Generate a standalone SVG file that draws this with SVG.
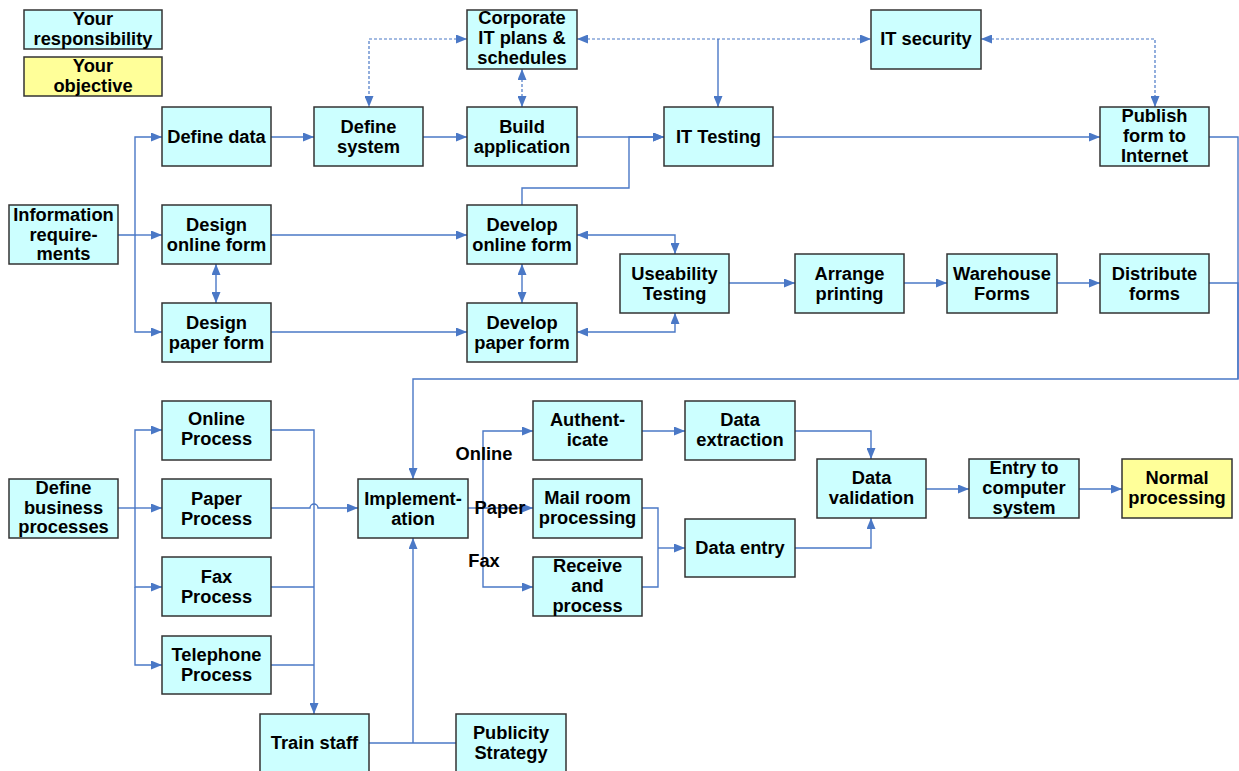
<svg xmlns="http://www.w3.org/2000/svg" width="1239" height="771" viewBox="0 0 1239 771">
<defs>
<style>
.b{fill:#CCFFFF;stroke:#333;stroke-width:1.5}
.y{fill:#FFFF99;stroke:#333;stroke-width:1.5}
text{font-family:"Liberation Sans",Arial,sans-serif;font-weight:bold;font-size:18.3px;fill:#000;text-anchor:middle}
.c{fill:none;stroke:#4A78C6;stroke-width:1.4}
.d{fill:none;stroke:#4A78C6;stroke-width:1.2;stroke-dasharray:3 2}
.a{marker-end:url(#ar)}
.s{marker-start:url(#ar)}
</style>
<marker id="ar" markerUnits="userSpaceOnUse" markerWidth="11" markerHeight="9" refX="11" refY="4.5" orient="auto-start-reverse"><path d="M0,0 L11,4.5 L0,9 z" fill="#4A78C6"/></marker>
</defs>
<rect width="1239" height="771" fill="#fff"/>
<g id="connectors">
<path class="c a" d="M135,235 L162,235"/>
<path class="c a" d="M118,235 L135,235 L135,137 L162,137"/>
<path class="c a" d="M135,235 L135,332 L162,332"/>
<path class="c a" d="M271,137 L314,137"/>
<path class="c a" d="M423,137 L467,137"/>
<path class="c a" d="M577,137 L664,137"/>
<path class="c a" d="M773,137 L1100,137"/>
<path class="c a" d="M522,205 L522,188 L629,188 L629,137 L664,137"/>
<path class="d s a" d="M467,39 L369,39 L369,107"/>
<path class="d s a" d="M522,69 L522,107"/>
<path class="d s a" d="M577,39 L871,39"/>
<path class="c a" d="M718,39 L718,107"/>
<path class="d s a" d="M981,39 L1155,39 L1155,107"/>
<path class="c s a" d="M216,264 L216,303"/>
<path class="c a" d="M271,235 L467,235"/>
<path class="c a" d="M271,332 L467,332"/>
<path class="c s a" d="M522,264 L522,303"/>
<path class="c s a" d="M577,235 L675,235 L675,254"/>
<path class="c s a" d="M577,332 L675,332 L675,313"/>
<path class="c a" d="M729,283 L795,283"/>
<path class="c a" d="M904,283 L947,283"/>
<path class="c a" d="M1057,283 L1100,283"/>
<path class="c" d="M1209,137 L1238,137 L1238,379"/>
<path class="c a" d="M1209,283 L1238,283 L1238,379 L413,379 L413,479"/>
<path class="c" d="M118,508 L135,508"/>
<path class="c a" d="M135,508 L162,508"/>
<path class="c a" d="M135,508 L135,430 L162,430"/>
<path class="c a" d="M135,508 L135,587 L162,587"/>
<path class="c a" d="M135,587 L135,665 L162,665"/>
<path class="c a" d="M271,430 L314,430 L314,714"/>
<path class="c" d="M271,587 L314,587"/>
<path class="c" d="M271,665 L314,665"/>
<path class="c a" d="M271,508 L310,508 A4,4 0 0 1 318,508 L358,508"/>
<path class="c" d="M369,743 L456,743"/>
<path class="c a" d="M413,743 L413,538"/>
<path class="c" d="M468,508 L483,508"/>
<path class="c a" d="M483,508 L483,431 L533,431"/>
<path class="c a" d="M483,508 L533,508"/>
<path class="c a" d="M483,508 L483,587 L533,587"/>
<path class="c a" d="M642,431 L685,431"/>
<path class="c" d="M642,508 L658,508 L658,587 L642,587"/>
<path class="c a" d="M658,548 L685,548"/>
<path class="c a" d="M795,431 L871,431 L871,459"/>
<path class="c a" d="M795,548 L871,548 L871,518"/>
<path class="c a" d="M926,489 L969,489"/>
<path class="c a" d="M1079,489 L1122,489"/>
</g>
<g id="labels">
<text x="484" y="460">Online</text>
<text x="500" y="514">Paper</text>
<text x="484" y="567">Fax</text>
</g>
<g id="legend-responsibility"><rect class="b" x="24" y="10" width="138" height="39"/><text x="93" y="25">Your</text><text x="93" y="45">responsibility</text></g>
<g id="legend-objective"><rect class="y" x="24" y="57" width="138" height="39"/><text x="93" y="72">Your</text><text x="93" y="92">objective</text></g>
<g id="define-data"><rect class="b" x="162" y="107" width="109" height="59"/><text x="216.5" y="143">Define data</text></g>
<g id="define-system"><rect class="b" x="314" y="107" width="109" height="59"/><text x="368.5" y="133">Define</text><text x="368.5" y="153">system</text></g>
<g id="corporate-it-plans"><rect class="b" x="467" y="10" width="110" height="59"/><text x="522" y="24">Corporate</text><text x="522" y="44">IT plans &amp;</text><text x="522" y="64">schedules</text></g>
<g id="build-application"><rect class="b" x="467" y="107" width="110" height="59"/><text x="522" y="133">Build</text><text x="522" y="153">application</text></g>
<g id="it-testing"><rect class="b" x="664" y="107" width="109" height="59"/><text x="718.5" y="143">IT Testing</text></g>
<g id="it-security"><rect class="b" x="871" y="10" width="110" height="59"/><text x="926" y="45">IT security</text></g>
<g id="publish-form"><rect class="b" x="1100" y="107" width="109" height="59"/><text x="1154.5" y="122">Publish</text><text x="1154.5" y="142">form to</text><text x="1154.5" y="162">Internet</text></g>
<g id="information-requirements"><rect class="b" x="9" y="205" width="109" height="59"/><text x="63.5" y="221">Information</text><text x="63.5" y="241">require-</text><text x="63.5" y="260">ments</text></g>
<g id="design-online-form"><rect class="b" x="162" y="205" width="109" height="59"/><text x="216.5" y="231">Design</text><text x="216.5" y="251">online form</text></g>
<g id="design-paper-form"><rect class="b" x="162" y="303" width="109" height="59"/><text x="216.5" y="329">Design</text><text x="216.5" y="349">paper form</text></g>
<g id="develop-online-form"><rect class="b" x="467" y="205" width="110" height="59"/><text x="522" y="231">Develop</text><text x="522" y="251">online form</text></g>
<g id="develop-paper-form"><rect class="b" x="467" y="303" width="110" height="59"/><text x="522" y="329">Develop</text><text x="522" y="349">paper form</text></g>
<g id="useability-testing"><rect class="b" x="620" y="254" width="109" height="59"/><text x="674.5" y="280">Useability</text><text x="674.5" y="300">Testing</text></g>
<g id="arrange-printing"><rect class="b" x="795" y="254" width="109" height="59"/><text x="849.5" y="280">Arrange</text><text x="849.5" y="300">printing</text></g>
<g id="warehouse-forms"><rect class="b" x="947" y="254" width="110" height="59"/><text x="1002" y="280">Warehouse</text><text x="1002" y="300">Forms</text></g>
<g id="distribute-forms"><rect class="b" x="1100" y="254" width="109" height="59"/><text x="1154.5" y="280">Distribute</text><text x="1154.5" y="300">forms</text></g>
<g id="define-business-processes"><rect class="b" x="9" y="479" width="109" height="59"/><text x="63.5" y="494">Define</text><text x="63.5" y="514">business</text><text x="63.5" y="533">processes</text></g>
<g id="online-process"><rect class="b" x="162" y="401" width="109" height="59"/><text x="216.5" y="425">Online</text><text x="216.5" y="445">Process</text></g>
<g id="paper-process"><rect class="b" x="162" y="479" width="109" height="59"/><text x="216.5" y="505">Paper</text><text x="216.5" y="525">Process</text></g>
<g id="fax-process"><rect class="b" x="162" y="557" width="109" height="59"/><text x="216.5" y="583">Fax</text><text x="216.5" y="603">Process</text></g>
<g id="telephone-process"><rect class="b" x="162" y="636" width="109" height="58"/><text x="216.5" y="661">Telephone</text><text x="216.5" y="681">Process</text></g>
<g id="implementation"><rect class="b" x="358" y="479" width="110" height="59"/><text x="413" y="505">Implement-</text><text x="413" y="525">ation</text></g>
<g id="train-staff"><rect class="b" x="260" y="714" width="109" height="59"/><text x="314.5" y="749">Train staff</text></g>
<g id="publicity-strategy"><rect class="b" x="456" y="714" width="110" height="59"/><text x="511" y="739">Publicity</text><text x="511" y="759">Strategy</text></g>
<g id="authenticate"><rect class="b" x="533" y="401" width="109" height="59"/><text x="587.5" y="426">Authent-</text><text x="587.5" y="446">icate</text></g>
<g id="mail-room-processing"><rect class="b" x="533" y="479" width="109" height="59"/><text x="587.5" y="504">Mail room</text><text x="587.5" y="524">processing</text></g>
<g id="receive-and-process"><rect class="b" x="533" y="557" width="109" height="59"/><text x="587.5" y="572">Receive</text><text x="587.5" y="592">and</text><text x="587.5" y="612">process</text></g>
<g id="data-extraction"><rect class="b" x="685" y="401" width="110" height="59"/><text x="740" y="426">Data</text><text x="740" y="446">extraction</text></g>
<g id="data-entry"><rect class="b" x="685" y="519" width="110" height="58"/><text x="740" y="554">Data entry</text></g>
<g id="data-validation"><rect class="b" x="817" y="459" width="109" height="59"/><text x="871.5" y="484">Data</text><text x="871.5" y="504">validation</text></g>
<g id="entry-to-computer-system"><rect class="b" x="969" y="459" width="110" height="59"/><text x="1024" y="474">Entry to</text><text x="1024" y="494">computer</text><text x="1024" y="514">system</text></g>
<g id="normal-processing"><rect class="y" x="1122" y="459" width="110" height="59"/><text x="1177" y="484">Normal</text><text x="1177" y="504">processing</text></g>
</svg>
